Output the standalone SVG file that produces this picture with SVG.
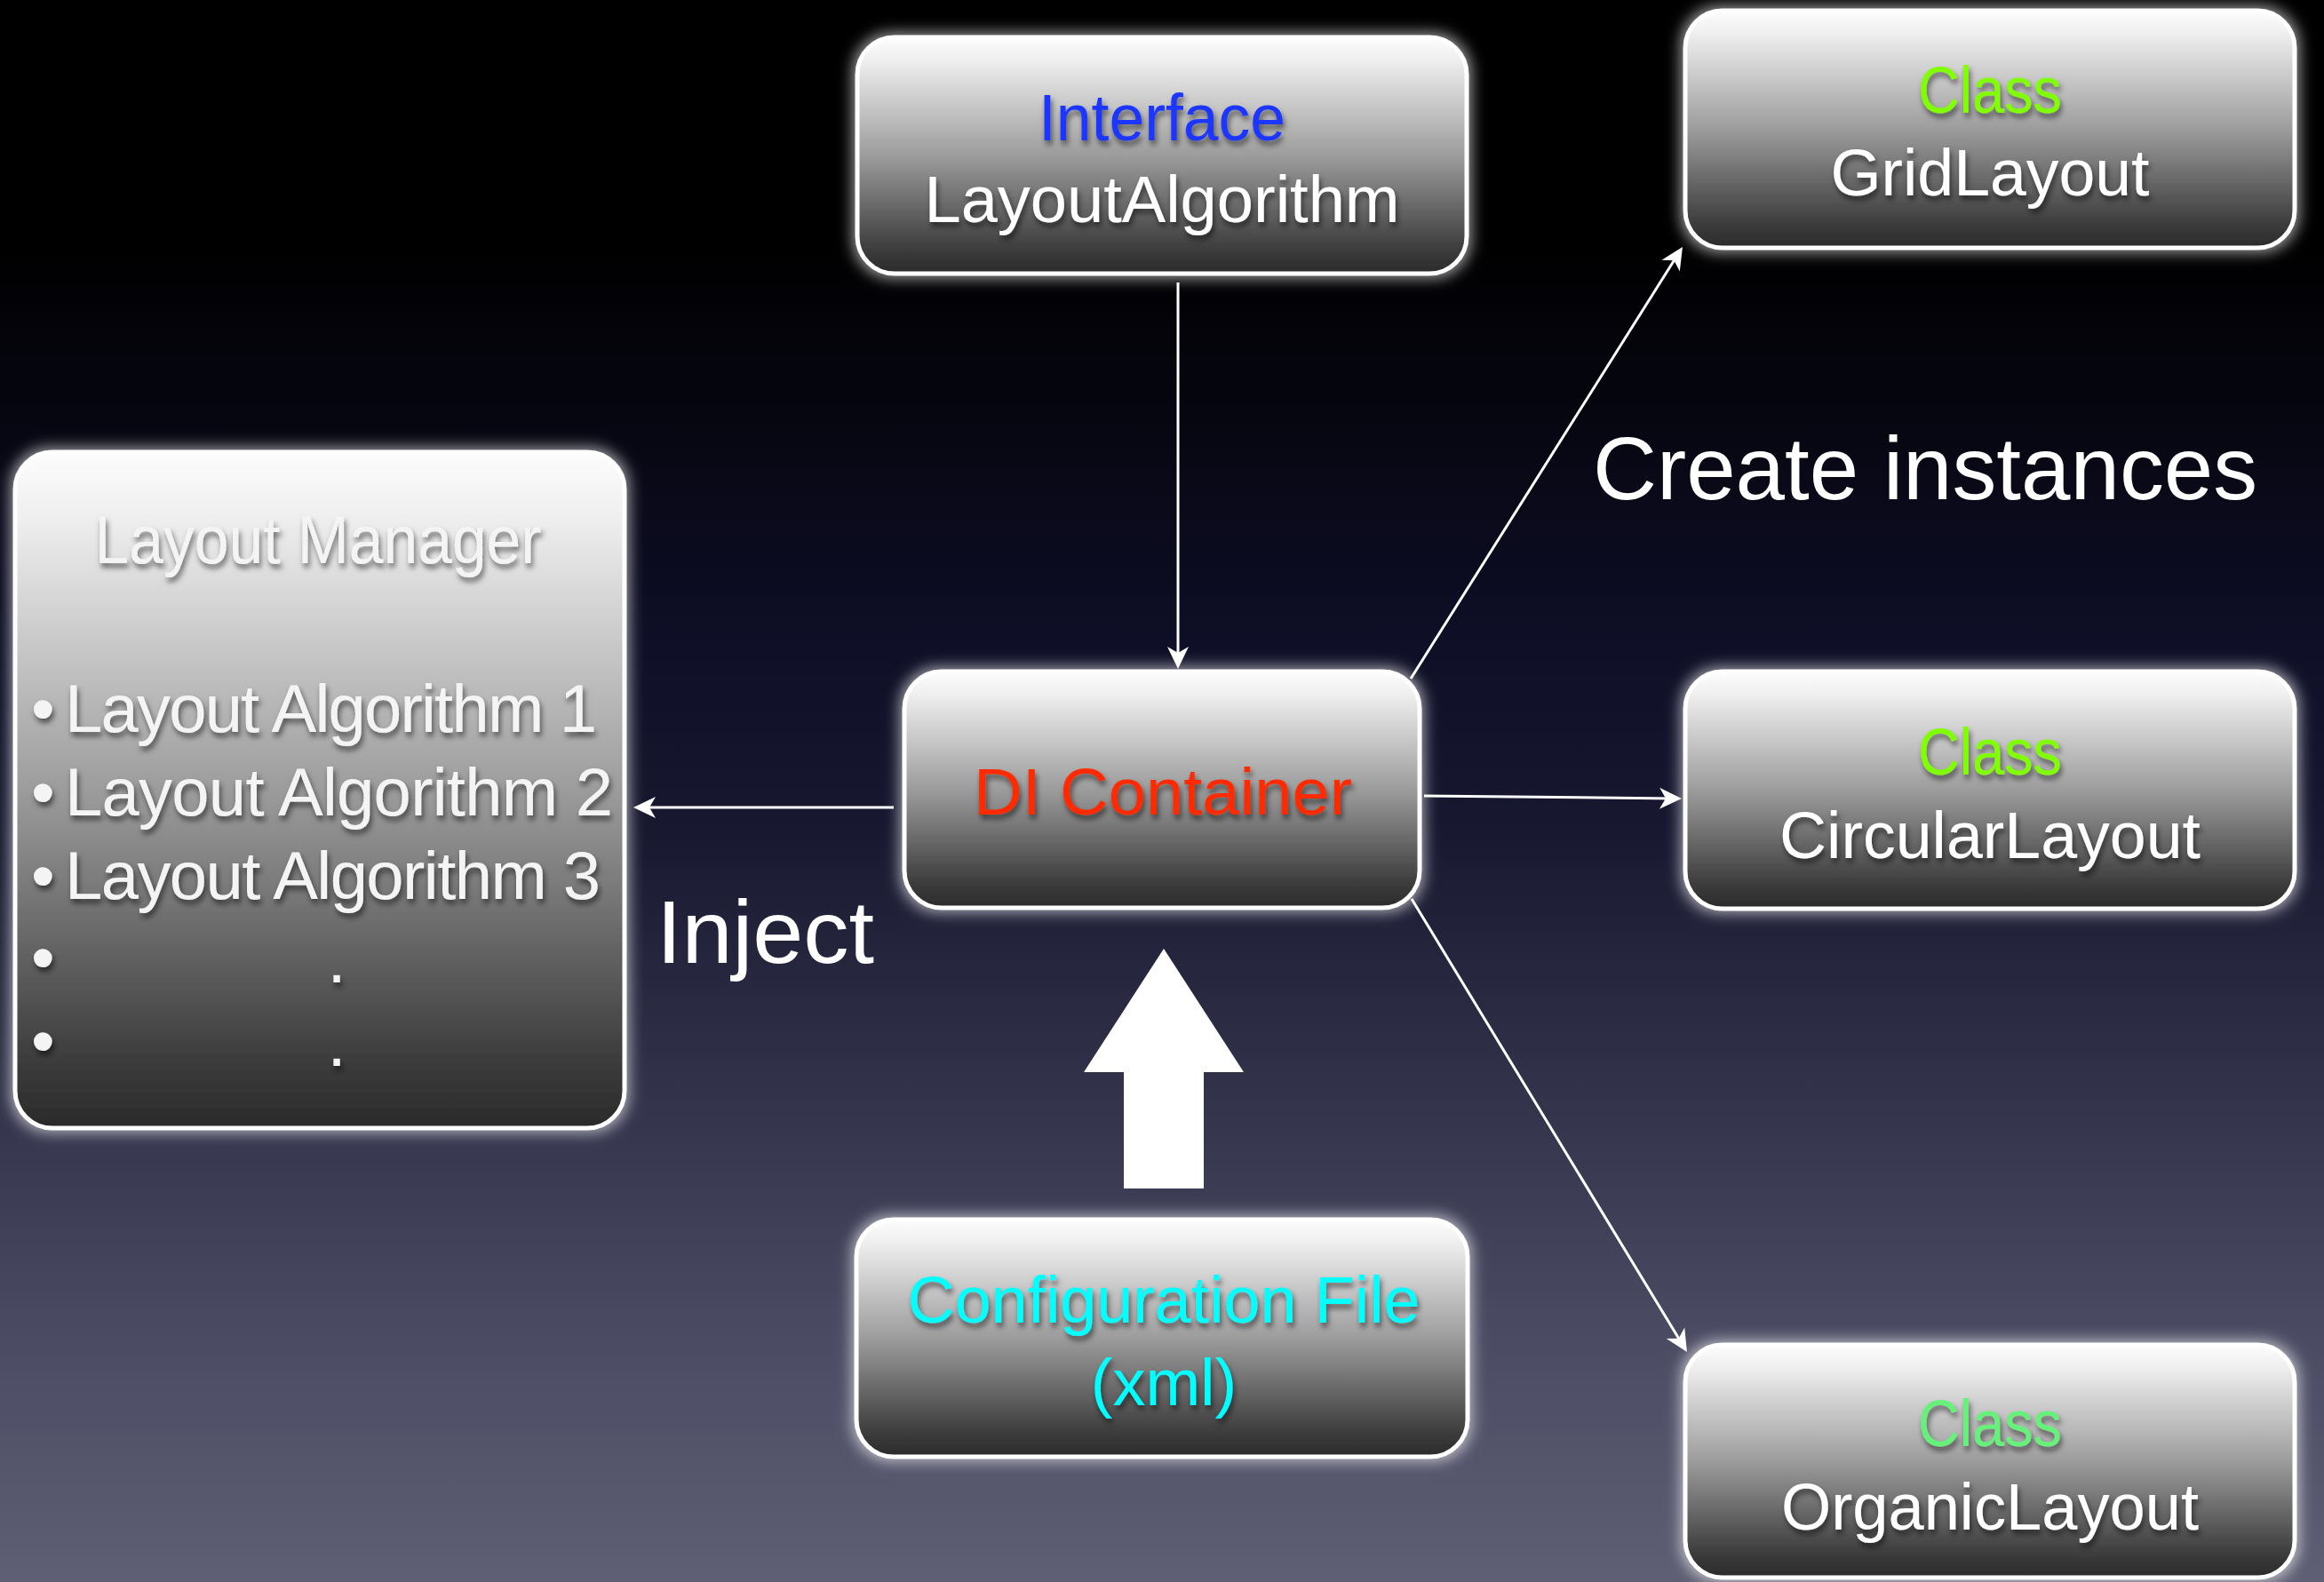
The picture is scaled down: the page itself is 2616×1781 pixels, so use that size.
<svg xmlns="http://www.w3.org/2000/svg" width="2616" height="1781" viewBox="0 0 2616 1781">
<defs>
<linearGradient id="bg" x1="0" y1="0" x2="0" y2="1">
<stop offset="0" stop-color="#000000"/>
<stop offset="0.15" stop-color="#000000"/>
<stop offset="0.4" stop-color="#0e0e26"/>
<stop offset="0.52" stop-color="#17172f"/>
<stop offset="0.84" stop-color="#4a4a63"/>
<stop offset="1" stop-color="#5e5e74"/>
</linearGradient>
<linearGradient id="boxfill" x1="0" y1="0" x2="0" y2="1">
<stop offset="0" stop-color="#fdfdfd"/>
<stop offset="0.1" stop-color="#eeeeee"/>
<stop offset="0.5" stop-color="#9c9c9c"/>
<stop offset="0.9" stop-color="#3c3c3c"/>
<stop offset="1" stop-color="#2a2a2a"/>
</linearGradient>
<filter id="glow" x="-10%" y="-10%" width="120%" height="120%">
<feMorphology in="SourceAlpha" operator="dilate" radius="3" result="d"/>
<feGaussianBlur in="d" stdDeviation="8" result="b"/>
<feFlood flood-color="#ffffff" flood-opacity="0.6"/>
<feComposite in2="b" operator="in" result="g"/>
<feMerge><feMergeNode in="g"/><feMergeNode in="SourceGraphic"/></feMerge>
</filter>
<filter id="tshadow" x="-10%" y="-30%" width="120%" height="160%">
<feDropShadow dx="2" dy="5" stdDeviation="3" flood-color="#000000" flood-opacity="0.55"/>
</filter>
<marker id="arrow" markerUnits="userSpaceOnUse" viewBox="-18 -13 28 26" markerWidth="28" markerHeight="26" refX="0" refY="0" orient="auto">
<path d="M8,0 L-17,-12 L-10,0 L-17,12 Z" fill="#ffffff"/>
</marker>
<style>
.box { fill: url(#boxfill); stroke: #ffffff; stroke-width: 5; filter: url(#glow); }
.t { font-family: "Liberation Sans", Arial, sans-serif; font-size: 74px; text-anchor: middle; filter: url(#tshadow); }
.w { fill: #ffffff; }
.blue { fill: #1a36ff; }
.green { fill: #80ff00; }
.green2 { fill: #66f27a; }
.red { fill: #ff2a00; }
.cyan { fill: #00ffff; }
.lm { font-family: "Liberation Sans", Arial, sans-serif; font-size: 76px; fill: #f4f4f4; filter: url(#tshadow); }
.lbl { font-family: "Liberation Sans", Arial, sans-serif; font-size: 100px; fill: #ffffff; }
.conn { stroke: #ffffff; stroke-width: 3; fill: none; marker-end: url(#arrow); }
</style>
</defs>
<rect x="0" y="0" width="2616" height="1781" fill="url(#bg)"/>

<g id="connectors">
<path class="conn" d="M1326,318 L1326,745"/>
<path class="conn" d="M1006,909 L721,909"/>
<path class="conn" d="M1588,764 L1889.7,284.8"/>
<path class="conn" d="M1603,896 L1885,898.9"/>
<path class="conn" d="M1589,1012 L1894.8,1515.2"/>
<polygon id="inject-arrow" points="1310,1068 1400,1207 1355,1207 1355,1338 1265,1338 1265,1207 1220,1207" fill="#ffffff"/>
</g>

<g id="interface">
<rect class="box" x="965" y="42" width="686" height="266" rx="42"/>
<text class="t blue" x="1308" y="158" textLength="278" lengthAdjust="spacingAndGlyphs">Interface</text>
<text class="t w" x="1308" y="250" textLength="535" lengthAdjust="spacingAndGlyphs">LayoutAlgorithm</text>
</g>

<g id="gridlayout">
<rect class="box" x="1897" y="12" width="686" height="267" rx="42"/>
<text class="t green" x="2240" y="127" textLength="162" lengthAdjust="spacingAndGlyphs">Class</text>
<text class="t w" x="2240" y="220" textLength="359" lengthAdjust="spacingAndGlyphs">GridLayout</text>
</g>

<g id="layoutmanager">
<rect class="box" x="17" y="509" width="686" height="761" rx="42"/>
<text class="lm" x="358" y="634" text-anchor="middle" font-size="72" textLength="503" lengthAdjust="spacingAndGlyphs">Layout Manager</text>
<text class="lm" y="824"><tspan x="35">•</tspan><tspan x="73" textLength="599" lengthAdjust="spacing">Layout Algorithm  1</tspan></text>
<text class="lm" y="918"><tspan x="35">•</tspan><tspan x="73" textLength="617" lengthAdjust="spacing">Layout Algorithm  2</tspan></text>
<text class="lm" y="1012"><tspan x="35">•</tspan><tspan x="73" textLength="603" lengthAdjust="spacing">Layout Algorithm  3</tspan></text>
<text class="lm" x="35" y="1104">•</text>
<text class="lm" x="379" y="1106" text-anchor="middle">.</text>
<text class="lm" x="35" y="1198">•</text>
<text class="lm" x="379" y="1200" text-anchor="middle">.</text>
</g>

<g id="dicontainer">
<rect class="box" x="1018" y="756" width="580" height="266" rx="42"/>
<text class="t red" x="1309" y="917" font-size="78" textLength="426" lengthAdjust="spacingAndGlyphs">DI Container</text>
</g>

<g id="circularlayout">
<rect class="box" x="1897" y="756" width="686" height="267" rx="42"/>
<text class="t green" x="2240" y="872" textLength="162" lengthAdjust="spacingAndGlyphs">Class</text>
<text class="t w" x="2240" y="966" textLength="474" lengthAdjust="spacingAndGlyphs">CircularLayout</text>
</g>

<g id="configfile">
<rect class="box" x="964" y="1373" width="688" height="267" rx="42"/>
<text class="t cyan" x="1310" y="1489" textLength="577" lengthAdjust="spacingAndGlyphs">Configuration File</text>
<text class="t cyan" x="1310" y="1582">(xml)</text>
</g>

<g id="organiclayout">
<rect class="box" x="1897" y="1514" width="686" height="262" rx="42"/>
<text class="t green2" x="2240" y="1628" textLength="162" lengthAdjust="spacingAndGlyphs">Class</text>
<text class="t w" x="2240" y="1722" textLength="470" lengthAdjust="spacingAndGlyphs">OrganicLayout</text>
</g>

<g id="labels">
<text class="lbl" x="739" y="1084" textLength="245" lengthAdjust="spacingAndGlyphs">Inject</text>
<text class="lbl" x="1793" y="562" textLength="748" lengthAdjust="spacingAndGlyphs">Create instances</text>
</g>
</svg>
